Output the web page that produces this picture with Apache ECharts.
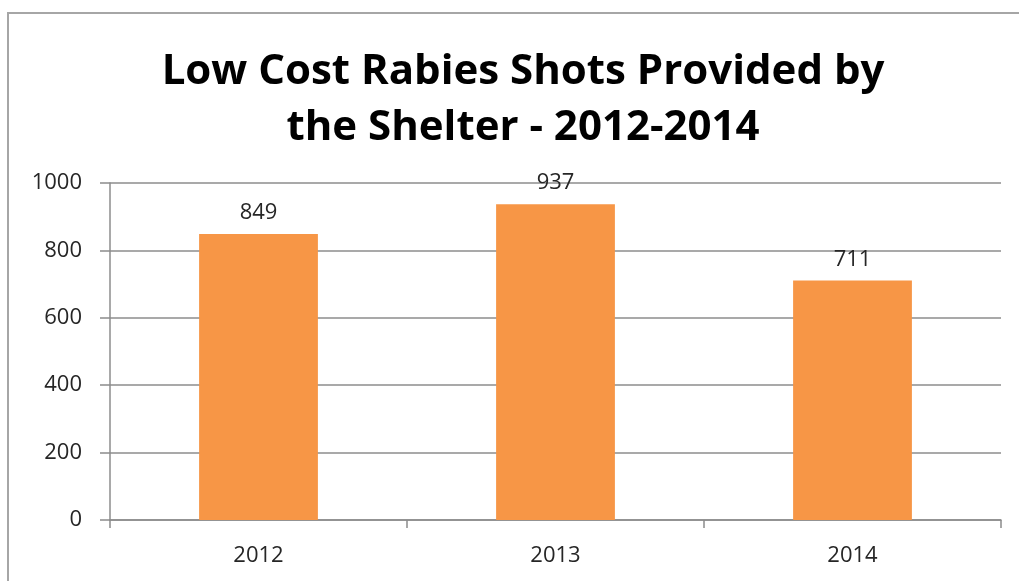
<!DOCTYPE html>
<html>
<head>
<meta charset="utf-8">
<script src="https://cdn.jsdelivr.net/npm/echarts@6/dist/echarts.min.js"></script>
<style>
  html, body { margin: 0; padding: 0; background: #fff; }
  #frame { position: absolute; left: 7px; top: 12px; width: 1030px; height: 600px; border: 2px solid #a6a6a6; box-sizing: border-box; }
  #chart { position: absolute; left: 0; top: 0; width: 1019px; height: 581px; }
</style>
</head>
<body>
<div id="frame"></div>
<div id="chart"></div>
<script>
// Rabies vaccination counts per year
const years = ['2012', '2013', '2014'];
const shots = [849, 937, 711];
const yTicks = { min: 0, max: 1000, interval: 200 };

const chart = echarts.init(document.getElementById('chart'), null, { renderer: 'canvas' });
chart.setOption({
  animation: false,
  title: {
    text: 'Low Cost Rabies Shots Provided by\nthe Shelter - 2012-2014',
    left: 518,
    textAlign: 'center',
    top: 39,
    textStyle: {
      fontFamily: 'Open Sans',
      fontWeight: 'bold',
      fontSize: 42,
      lineHeight: 56,
      color: '#000'
    }
  },
  grid: { left: 110, right: 18, top: 183, bottom: 61, containLabel: false },
  xAxis: {
    type: 'category',
    data: years,
    axisLine: { lineStyle: { color: '#8c8c8c', width: 1.5 } },
    axisTick: { show: true, length: 8, lineStyle: { color: '#8c8c8c', width: 1.5 } },
    axisLabel: { fontFamily: 'Open Sans', fontSize: 22, color: '#262626', margin: 25 }
  },
  yAxis: {
    type: 'value',
    min: yTicks.min,
    max: yTicks.max,
    interval: yTicks.interval,
    axisLine: { show: true, lineStyle: { color: '#8c8c8c', width: 1.5 } },
    axisTick: { show: true, length: 10, lineStyle: { color: '#8c8c8c', width: 1.5 } },
    splitLine: { lineStyle: { color: '#8c8c8c', width: 1.5 } },
    axisLabel: {
      fontFamily: 'Open Sans', fontSize: 22, color: '#262626', margin: 28,
      formatter: (v) => String(v)
    }
  },
  series: [{
    type: 'bar',
    data: shots,
    barWidth: '40%',
    itemStyle: { color: '#F79646' },
    label: {
      show: true,
      position: 'top',
      distance: 10,
      fontFamily: 'Open Sans',
      fontSize: 22,
      color: '#262626'
    }
  }]
});
</script>
</body>
</html>
